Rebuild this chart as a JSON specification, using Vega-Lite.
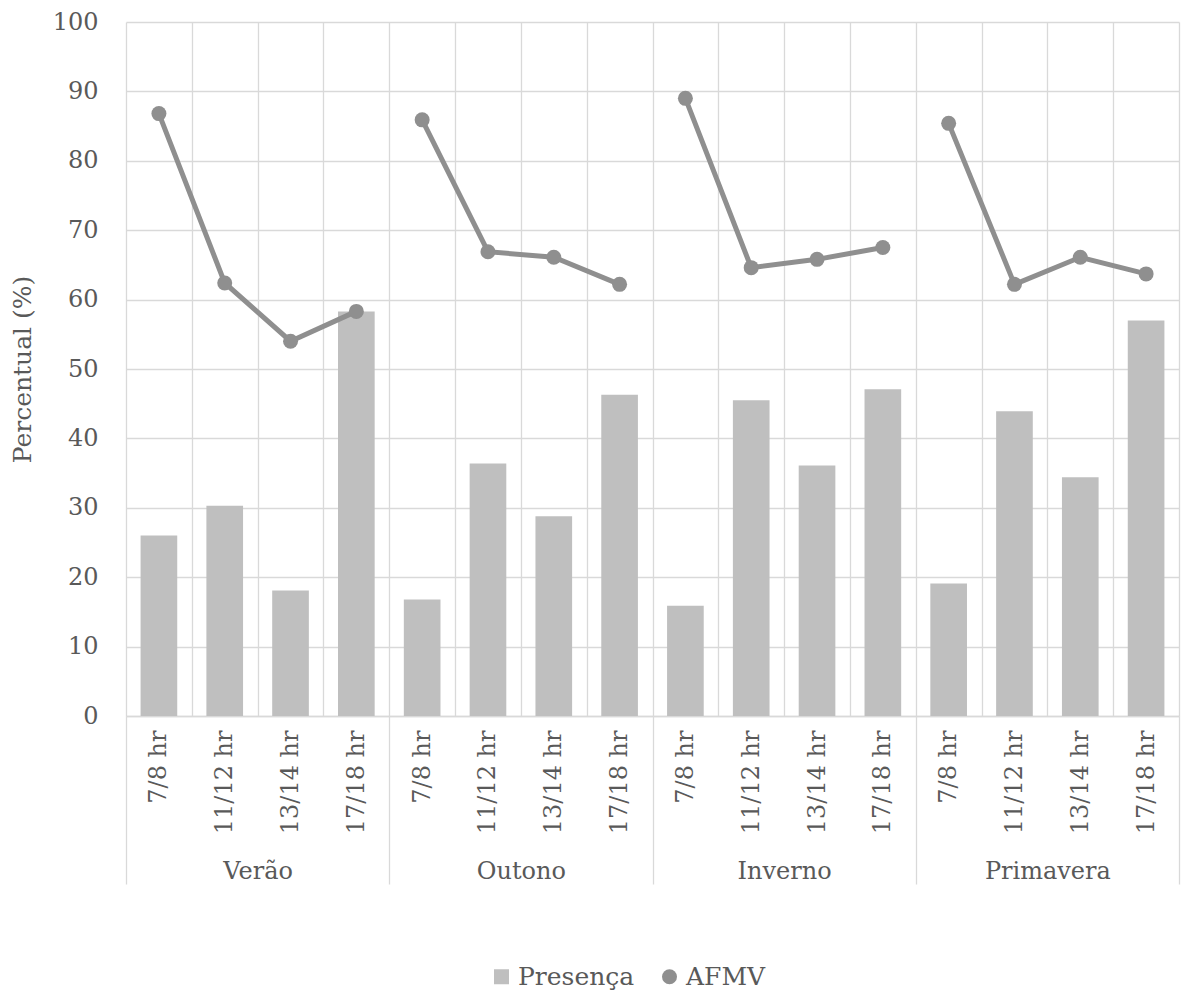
{
  "$schema": "https://vega.github.io/schema/vega-lite/v6.json",
  "autosize": {"type": "none"},
  "width": 1053,
  "height": 694,
  "padding": {"left": 126, "top": 22, "right": 3, "bottom": 276},
  "background": "white",
  "config": {
    "view": {"stroke": null},
    "font": "DejaVu Serif",
    "axis": {
      "labelFont": "DejaVu Serif",
      "labelFontSize": 24,
      "labelColor": "#595959",
      "titleFont": "DejaVu Serif",
      "titleFontSize": 25,
      "titleFontWeight": "normal",
      "titleColor": "#595959",
      "gridColor": "#D9D9D9",
      "gridWidth": 1.3,
      "domainColor": "#D9D9D9",
      "domainWidth": 1.3,
      "tickColor": "#D9D9D9",
      "tickWidth": 1.3
    },
    "legend": {
      "labelFont": "DejaVu Serif",
      "labelFontSize": 25,
      "labelColor": "#595959"
    }
  },
  "data": {
    "values": [
      {"estacao": "Verão", "horario": "7/8 hr", "grupo": "Verão|7/8 hr", "presenca": 26.0, "afmv": 86.8},
      {"estacao": "Verão", "horario": "11/12 hr", "grupo": "Verão|11/12 hr", "presenca": 30.3, "afmv": 62.4},
      {"estacao": "Verão", "horario": "13/14 hr", "grupo": "Verão|13/14 hr", "presenca": 18.1, "afmv": 54.0},
      {"estacao": "Verão", "horario": "17/18 hr", "grupo": "Verão|17/18 hr", "presenca": 58.3, "afmv": 58.3},
      {"estacao": "Outono", "horario": "7/8 hr", "grupo": "Outono|7/8 hr", "presenca": 16.8, "afmv": 85.9},
      {"estacao": "Outono", "horario": "11/12 hr", "grupo": "Outono|11/12 hr", "presenca": 36.4, "afmv": 66.9},
      {"estacao": "Outono", "horario": "13/14 hr", "grupo": "Outono|13/14 hr", "presenca": 28.8, "afmv": 66.1},
      {"estacao": "Outono", "horario": "17/18 hr", "grupo": "Outono|17/18 hr", "presenca": 46.3, "afmv": 62.2},
      {"estacao": "Inverno", "horario": "7/8 hr", "grupo": "Inverno|7/8 hr", "presenca": 15.9, "afmv": 89.0},
      {"estacao": "Inverno", "horario": "11/12 hr", "grupo": "Inverno|11/12 hr", "presenca": 45.5, "afmv": 64.6},
      {"estacao": "Inverno", "horario": "13/14 hr", "grupo": "Inverno|13/14 hr", "presenca": 36.1, "afmv": 65.8},
      {"estacao": "Inverno", "horario": "17/18 hr", "grupo": "Inverno|17/18 hr", "presenca": 47.1, "afmv": 67.5},
      {"estacao": "Primavera", "horario": "7/8 hr", "grupo": "Primavera|7/8 hr", "presenca": 19.1, "afmv": 85.4},
      {"estacao": "Primavera", "horario": "11/12 hr", "grupo": "Primavera|11/12 hr", "presenca": 43.9, "afmv": 62.2},
      {"estacao": "Primavera", "horario": "13/14 hr", "grupo": "Primavera|13/14 hr", "presenca": 34.4, "afmv": 66.1},
      {"estacao": "Primavera", "horario": "17/18 hr", "grupo": "Primavera|17/18 hr", "presenca": 57.0, "afmv": 63.7}
    ]
  },
  "layer": [
    {
      "layer": [
        {
          "mark": {"type": "bar", "width": {"band": 0.557}},
          "encoding": {
            "x": {
              "field": "grupo",
              "type": "nominal",
              "sort": null,
              "scale": {"paddingInner": 0, "paddingOuter": 0},
              "axis": {
                "title": null,
                "labelExpr": "split(datum.label, '|')[1]",
                "labelAngle": 270,
                "labelPadding": 14,
                "ticks": false,
                "grid": true,
                "tickBand": "extent",
                "domain": true
              }
            },
            "y": {
              "field": "presenca",
              "type": "quantitative",
              "scale": {"domain": [0, 100], "nice": false},
              "axis": {
                "title": "Percentual (%)",
                "values": [0, 10, 20, 30, 40, 50, 60, 70, 80, 90, 100],
                "grid": true,
                "ticks": false,
                "domain": false,
                "labelPadding": 28,
                "titlePadding": 17
              }
            },
            "color": {
              "datum": "Presença",
              "type": "nominal",
              "scale": {"domain": ["Presença", "AFMV"], "range": ["#BFBFBF", "#8F8F8F"]},
              "legend": {
                "title": null,
                "orient": "none",
                "direction": "horizontal",
                "legendX": 363,
                "legendY": 942,
                "symbolSize": 225,
                "symbolStrokeWidth": 0,
                "labelOffset": 4,
                "columnPadding": 22,
                "encode": {
                  "symbols": {
                    "update": {
                      "shape": {"signal": "datum.value === 'Presença' ? 'square' : 'circle'"}
                    }
                  }
                }
              }
            }
          }
        },
        {
          "mark": {"type": "line", "color": "#8F8F8F", "strokeWidth": 5},
          "encoding": {
            "x": {"field": "grupo", "type": "nominal", "sort": null},
            "y": {"field": "afmv", "type": "quantitative"},
            "detail": {"field": "estacao"}
          }
        },
        {
          "mark": {"type": "point", "shape": "circle", "filled": true, "opacity": 1, "size": 225},
          "encoding": {
            "x": {"field": "grupo", "type": "nominal", "sort": null},
            "y": {"field": "afmv", "type": "quantitative"},
            "color": {"datum": "AFMV", "type": "nominal"}
          }
        }
      ]
    },
    {
      "mark": {"type": "point", "opacity": 0},
      "encoding": {
        "x": {
          "field": "estacao",
          "type": "nominal",
          "sort": null,
          "scale": {"paddingInner": 0, "paddingOuter": 0},
          "axis": {
            "orient": "bottom",
            "title": null,
            "labelAngle": 0,
            "tickBand": "extent",
            "ticks": true,
            "tickSize": 168,
            "labelPadding": -25,
            "domain": false,
            "grid": false
          }
        }
      }
    }
  ],
  "resolve": {"scale": {"x": "independent"}, "axis": {"x": "independent"}}
}
